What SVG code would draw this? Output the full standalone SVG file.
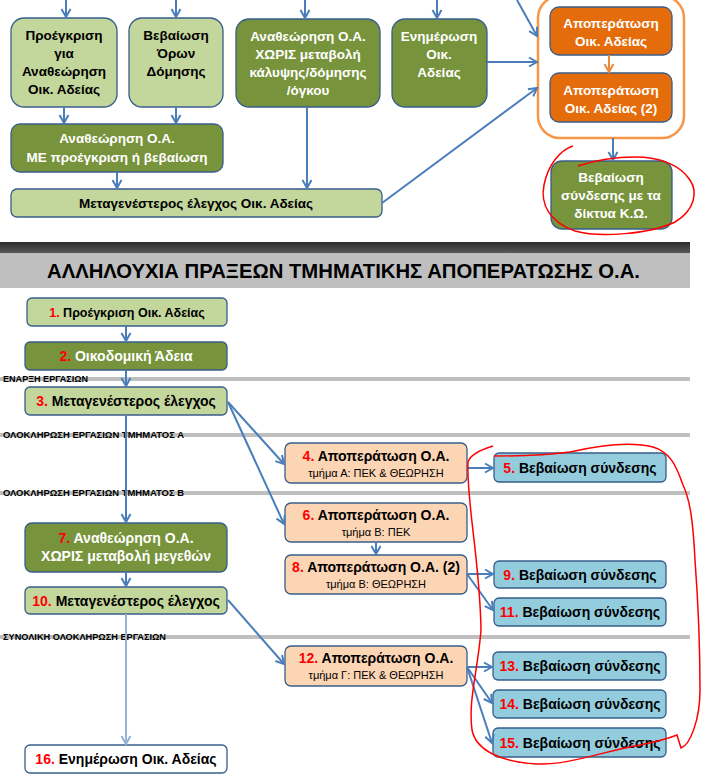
<svg xmlns="http://www.w3.org/2000/svg" width="703" height="780" viewBox="0 0 703 780">
<defs>
<style>
.t{font-family:"Liberation Sans",Arial,sans-serif;}
.b{font-weight:bold;}
.lg{fill:#c3d69b;stroke:#385d8a;stroke-width:1.3;}
.dg{fill:#77933c;stroke:#385d8a;stroke-width:1.3;}
.or{fill:#e46c0a;stroke:#385d8a;stroke-width:1.3;}
.pe{fill:#fcd5b5;stroke:#385d8a;stroke-width:1.3;}
.bl{fill:#93cddd;stroke:#385d8a;stroke-width:1.3;}
.wh{fill:#ffffff;stroke:#385d8a;stroke-width:1.3;}
.c{stroke:#4a7ebb;stroke-width:2;fill:none;marker-end:url(#ab);}
.cl{stroke:#95b3d7;stroke-width:2;fill:none;marker-end:url(#al);}
.co{stroke:#e98a3c;stroke-width:2;fill:none;marker-end:url(#ao);}
.sep{stroke:#bfbfbf;stroke-width:4;}
.lab{font-family:"Liberation Sans",Arial,sans-serif;font-weight:bold;font-size:8.5px;fill:#000;}
.red{stroke:#ff0000;stroke-width:1.5;fill:none;}
.n{fill:#ff0000;}
</style>
<marker id="ab" markerUnits="userSpaceOnUse" markerWidth="12" markerHeight="12" refX="10" refY="6" orient="auto"><path d="M2,1.5 L10,6 L2,10.5" fill="none" stroke="#4a7ebb" stroke-width="2"/></marker>
<marker id="al" markerUnits="userSpaceOnUse" markerWidth="12" markerHeight="12" refX="10" refY="6" orient="auto"><path d="M2,1.5 L10,6 L2,10.5" fill="none" stroke="#95b3d7" stroke-width="2"/></marker>
<marker id="ao" markerUnits="userSpaceOnUse" markerWidth="12" markerHeight="12" refX="10" refY="6" orient="auto"><path d="M2,1.5 L10,6 L2,10.5" fill="none" stroke="#e98a3c" stroke-width="2"/></marker>
<linearGradient id="dk" x1="0" y1="0" x2="0" y2="1"><stop offset="0" stop-color="#2b2b2b"/><stop offset="1" stop-color="#5a5a5a"/></linearGradient>
</defs>
<rect width="703" height="780" fill="#ffffff"/>

<!-- title band -->
<g id="title">
<rect x="0" y="242" width="690" height="11" fill="url(#dk)"/>
<rect x="0" y="253" width="690" height="35" fill="#bfbfbf"/>
<text class="t b" x="47" y="278" font-size="21" fill="#000" textLength="593" lengthAdjust="spacingAndGlyphs">ΑΛΛΗΛΟΥΧΙΑ ΠΡΑΞΕΩΝ ΤΜΗΜΑΤΙΚΗΣ ΑΠΟΠΕΡΑΤΩΣΗΣ Ο.Α.</text>
</g>

<!-- separators -->
<g id="separators">
<line class="sep" x1="0" y1="379" x2="690" y2="379"/>
<line class="sep" x1="0" y1="435" x2="690" y2="435"/>
<line class="sep" x1="0" y1="493" x2="690" y2="493"/>
<line class="sep" x1="0" y1="637" x2="690" y2="637"/>
<text class="lab" x="3" y="382" textLength="85" lengthAdjust="spacingAndGlyphs">ΕΝΑΡΞΗ ΕΡΓΑΣΙΩΝ</text>
<text class="lab" x="3" y="438" textLength="181" lengthAdjust="spacingAndGlyphs">ΟΛΟΚΛΗΡΩΣΗ ΕΡΓΑΣΙΩΝ ΤΜΗΜΑΤΟΣ Α</text>
<text class="lab" x="3" y="496" textLength="181" lengthAdjust="spacingAndGlyphs">ΟΛΟΚΛΗΡΩΣΗ ΕΡΓΑΣΙΩΝ ΤΜΗΜΑΤΟΣ Β</text>
<text class="lab" x="3" y="640" textLength="163" lengthAdjust="spacingAndGlyphs">ΣΥΝΟΛΙΚΗ ΟΛΟΚΛΗΡΩΣΗ ΕΡΓΑΣΙΩΝ</text>
</g>

<!-- top section nodes -->
<g id="n-proegkrisi">
<rect class="lg" x="11" y="18" width="106" height="89" rx="13"/>
<text class="t b" font-size="13.5" text-anchor="middle" fill="#000"><tspan x="64" y="40">Προέγκριση</tspan><tspan x="64" y="58">για</tspan><tspan x="64" y="76">Αναθεώρηση</tspan><tspan x="64" y="94">Οικ. Αδείας</tspan></text>
</g>
<g id="n-vevaiosi-oron">
<rect class="lg" x="129" y="18" width="94" height="89" rx="13"/>
<text class="t b" font-size="13.5" text-anchor="middle" fill="#000"><tspan x="176" y="40">Βεβαίωση</tspan><tspan x="176" y="58">Όρων</tspan><tspan x="176" y="76">Δόμησης</tspan></text>
</g>
<g id="n-anatheorisi-xoris">
<rect class="dg" x="236" y="19" width="144" height="88" rx="13"/>
<text class="t b" font-size="13.5" text-anchor="middle" fill="#fff"><tspan x="308" y="41">Αναθεώρηση Ο.Α.</tspan><tspan x="308" y="59">ΧΩΡΙΣ μεταβολή</tspan><tspan x="308" y="77">κάλυψης/δόμησης</tspan><tspan x="308" y="95">/όγκου</tspan></text>
</g>
<g id="n-enimerosi">
<rect class="dg" x="392" y="19" width="95" height="88" rx="13"/>
<text class="t b" font-size="13.5" text-anchor="middle" fill="#fff"><tspan x="439" y="41">Ενημέρωση</tspan><tspan x="439" y="59">Οικ.</tspan><tspan x="439" y="77">Αδείας</tspan></text>
</g>
<g id="n-anatheorisi-me">
<rect class="dg" x="11" y="124" width="212" height="48" rx="9"/>
<text class="t b" font-size="13.5" text-anchor="middle" fill="#fff"><tspan x="117" y="143">Αναθεώρηση Ο.Α.</tspan><tspan x="117" y="162">ΜΕ προέγκριση ή βεβαίωση</tspan></text>
</g>
<g id="n-metagenesteros-top">
<rect class="lg" x="11" y="189" width="371" height="28" rx="6"/>
<text class="t b" font-size="13.5" text-anchor="middle" fill="#000" x="196" y="208">Μεταγενέστερος έλεγχος Οικ. Αδείας</text>
</g>
<g id="n-container">
<rect x="538" y="-4" width="146" height="142" rx="22" fill="#ffffff" stroke="#f79646" stroke-width="2.5"/>
</g>
<g id="n-apoperatosi1">
<rect class="or" x="550" y="7" width="122" height="48" rx="9"/>
<text class="t b" font-size="13.5" text-anchor="middle" fill="#fff"><tspan x="611" y="28">Αποπεράτωση</tspan><tspan x="611" y="46">Οικ. Αδείας</tspan></text>
</g>
<g id="n-apoperatosi2">
<rect class="or" x="550" y="73" width="122" height="49" rx="9"/>
<text class="t b" font-size="13.5" text-anchor="middle" fill="#fff"><tspan x="611" y="95">Αποπεράτωση</tspan><tspan x="611" y="113">Οικ. Αδείας (2)</tspan></text>
</g>
<g id="n-vevaiosi-diktya">
<rect class="dg" x="551" y="161" width="121" height="68" rx="11"/>
<text class="t b" font-size="13.5" text-anchor="middle" fill="#fff"><tspan x="611" y="182">Βεβαίωση</tspan><tspan x="611" y="200">σύνδεσης με τα</tspan><tspan x="611" y="218">δίκτυα Κ.Ω.</tspan></text>
</g>

<!-- bottom section nodes -->
<g id="n1">
<rect class="lg" x="27" y="298" width="200" height="28" rx="5"/>
<text class="t b" font-size="12.5" text-anchor="middle" x="127" y="317" fill="#000"><tspan class="n">1.</tspan> Προέγκριση Οικ. Αδείας</text>
</g>
<g id="n2">
<rect class="dg" x="25" y="342" width="202" height="28" rx="5"/>
<text class="t b" font-size="14" text-anchor="middle" x="126" y="361" fill="#fff"><tspan class="n">2.</tspan> Οικοδομική Άδεια</text>
</g>
<g id="n3">
<rect class="lg" x="25" y="387" width="202" height="28" rx="5"/>
<text class="t b" font-size="14" text-anchor="middle" x="126" y="406" fill="#000"><tspan class="n">3.</tspan> Μεταγενέστερος έλεγχος</text>
</g>
<g id="n4">
<rect class="pe" x="285" y="443" width="182" height="40" rx="6"/>
<text class="t b" font-size="14" text-anchor="middle" x="376" y="461" fill="#000"><tspan class="n">4.</tspan> Αποπεράτωση Ο.Α.</text>
<text class="t" font-size="11" text-anchor="middle" x="376" y="477" fill="#000">τμήμα Α: ΠΕΚ &amp; ΘΕΩΡΗΣΗ</text>
</g>
<g id="n5">
<rect class="bl" x="494" y="453" width="172" height="29" rx="5"/>
<text class="t b" font-size="14" text-anchor="middle" x="580" y="473" fill="#000"><tspan class="n">5.</tspan> Βεβαίωση σύνδεσης</text>
</g>
<g id="n6">
<rect class="pe" x="285" y="503" width="182" height="39" rx="6"/>
<text class="t b" font-size="14" text-anchor="middle" x="376" y="520" fill="#000"><tspan class="n">6.</tspan> Αποπεράτωση Ο.Α.</text>
<text class="t" font-size="11" text-anchor="middle" x="376" y="536" fill="#000">τμήμα Β: ΠΕΚ</text>
</g>
<g id="n7">
<rect class="dg" x="25" y="523" width="202" height="49" rx="7"/>
<text class="t b" font-size="14" text-anchor="middle" fill="#fff"><tspan x="126" y="543"><tspan class="n">7.</tspan> Αναθεώρηση Ο.Α.</tspan><tspan x="126" y="561">ΧΩΡΙΣ μεταβολή μεγεθών</tspan></text>
</g>
<g id="n8">
<rect class="pe" x="285" y="555" width="182" height="39" rx="6"/>
<text class="t b" font-size="14" text-anchor="middle" x="376" y="572" fill="#000"><tspan class="n">8.</tspan> Αποπεράτωση Ο.Α. (2)</text>
<text class="t" font-size="11" text-anchor="middle" x="376" y="588" fill="#000">τμήμα Β: ΘΕΩΡΗΣΗ</text>
</g>
<g id="n9">
<rect class="bl" x="494" y="561" width="172" height="27" rx="5"/>
<text class="t b" font-size="14" text-anchor="middle" x="580" y="580" fill="#000"><tspan class="n">9.</tspan> Βεβαίωση σύνδεσης</text>
</g>
<g id="n10">
<rect class="lg" x="25" y="587" width="202" height="27" rx="5"/>
<text class="t b" font-size="14" text-anchor="middle" x="126" y="606" fill="#000"><tspan class="n">10.</tspan> Μεταγενέστερος έλεγχος</text>
</g>
<g id="n11">
<rect class="bl" x="494" y="598" width="172" height="28" rx="5"/>
<text class="t b" font-size="14" text-anchor="middle" x="580" y="617" fill="#000"><tspan class="n">11.</tspan> Βεβαίωση σύνδεσης</text>
</g>
<g id="n12">
<rect class="pe" x="285" y="646" width="182" height="40" rx="6"/>
<text class="t b" font-size="14" text-anchor="middle" x="376" y="663" fill="#000"><tspan class="n">12.</tspan> Αποπεράτωση Ο.Α.</text>
<text class="t" font-size="11" text-anchor="middle" x="376" y="679" fill="#000">τμήμα Γ: ΠΕΚ &amp; ΘΕΩΡΗΣΗ</text>
</g>
<g id="n13">
<rect class="bl" x="493" y="652" width="173" height="28" rx="5"/>
<text class="t b" font-size="14" text-anchor="middle" x="580" y="671" fill="#000"><tspan class="n">13.</tspan> Βεβαίωση σύνδεσης</text>
</g>
<g id="n14">
<rect class="bl" x="493" y="690" width="173" height="28" rx="5"/>
<text class="t b" font-size="14" text-anchor="middle" x="580" y="709" fill="#000"><tspan class="n">14.</tspan> Βεβαίωση σύνδεσης</text>
</g>
<g id="n15">
<rect class="bl" x="493" y="728" width="173" height="29" rx="5"/>
<text class="t b" font-size="14" text-anchor="middle" x="580" y="748" fill="#000"><tspan class="n">15.</tspan> Βεβαίωση σύνδεσης</text>
</g>
<g id="n16">
<rect class="wh" x="25" y="745" width="202" height="28" rx="5"/>
<text class="t b" font-size="14" text-anchor="middle" x="126" y="764" fill="#000"><tspan class="n">16.</tspan> Ενημέρωση Οικ. Αδείας</text>
</g>

<!-- connectors -->
<g id="connectors">
<line class="c" x1="66" y1="0" x2="66" y2="17"/>
<line class="c" x1="176" y1="0" x2="176" y2="17"/>
<line class="c" x1="305" y1="0" x2="305" y2="18"/>
<line class="c" x1="437" y1="0" x2="437" y2="18"/>
<line class="c" x1="517" y1="0" x2="537" y2="36"/>
<line class="c" x1="487" y1="62" x2="537" y2="62"/>
<line class="c" x1="382" y1="203" x2="537" y2="88"/>
<line class="c" x1="64" y1="107" x2="64" y2="123"/>
<line class="c" x1="176" y1="107" x2="176" y2="123"/>
<line class="c" x1="117" y1="172" x2="117" y2="188"/>
<line class="c" x1="307" y1="107" x2="307" y2="188"/>
<line class="co" x1="609" y1="55" x2="609" y2="72"/>
<line class="c" x1="613" y1="138" x2="613" y2="160"/>

<line class="c" x1="126" y1="326" x2="126" y2="341"/>
<line class="c" x1="126" y1="370" x2="126" y2="386"/>
<line class="c" x1="126" y1="415" x2="126" y2="522"/>
<line class="c" x1="228" y1="402" x2="284" y2="464"/>
<line class="c" x1="228" y1="402" x2="284" y2="524"/>
<line class="c" x1="467" y1="468" x2="493" y2="468"/>
<line class="c" x1="376" y1="542" x2="376" y2="554"/>
<line class="c" x1="467" y1="574" x2="493" y2="574"/>
<line class="c" x1="467" y1="574" x2="493" y2="610"/>
<line class="c" x1="126" y1="572" x2="126" y2="586"/>
<line class="c" x1="228" y1="600" x2="284" y2="664"/>
<line class="cl" x1="126" y1="614" x2="126" y2="744"/>
<line class="c" x1="467" y1="667" x2="492" y2="667"/>
<line class="c" x1="467" y1="667" x2="492" y2="703"/>
<line class="c" x1="467" y1="667" x2="492" y2="743"/>
</g>

<!-- hand-drawn red marks -->
<g id="annotations">
<path class="red" d="M573,146 C560,150 548,165 544,185 C540,205 550,222 575,231 C600,238 650,234 675,222 C695,210 698,192 690,180 C680,165 660,157 635,157 C610,157 590,162 578,166"/>
<path class="red" d="M493,446 C480,450 470,455 468,462 C466,500 480,560 481,630 C478,670 468,700 472,730 C476,750 500,762 537,764 C570,765 600,752 640,745 C660,741 672,737 677,735 L681,748 C690,745 700,720 700,690 C700,640 698,600 695,560 C693,520 690,500 683,485 C676,465 670,452 653,447 C630,441 600,445 570,452 C540,456 510,456 494,456"/>
</g>
</svg>
